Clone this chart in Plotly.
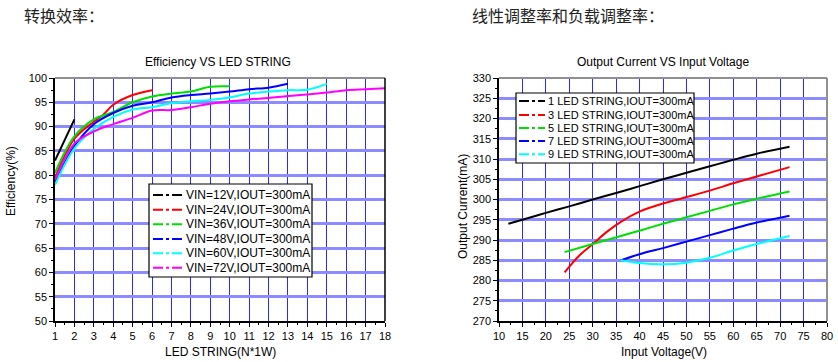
import plotly.graph_objects as go

# ---------------- data: left chart (Efficiency vs LED string) ----------------
eff_names = ["VIN=12V,IOUT=300mA", "VIN=24V,IOUT=300mA", "VIN=36V,IOUT=300mA",
             "VIN=48V,IOUT=300mA", "VIN=60V,IOUT=300mA", "VIN=72V,IOUT=300mA"]
eff_x = [
    [1, 2],
    [1, 2, 3, 3.5, 4, 5, 6],
    [1, 2, 3, 4, 5, 6, 7, 8, 9, 10],
    [1, 2, 3, 4, 5, 6, 7, 8, 9, 10, 11, 12, 13],
    [1, 2, 3, 4, 5, 6, 7, 8, 9, 10, 11, 12, 13, 14, 15],
    [1, 2, 3, 4, 5, 6, 7, 8, 9, 10, 11, 12, 13, 14, 15, 16, 17, 18],
]
eff_y = [
    [83.0, 91.5],
    [79.5, 87.5, 91.0, 92.5, 94.5, 96.5, 97.5],
    [80.5, 88.0, 91.5, 93.0, 95.0, 96.2, 96.8, 97.2, 98.2, 98.3],
    [78.5, 86.0, 90.5, 92.8, 94.3, 95.0, 96.0, 96.5, 96.8, 97.2, 97.7, 98.0, 98.8],
    [78.0, 85.5, 89.5, 92.0, 93.5, 94.0, 94.8, 95.2, 95.5, 96.0, 96.8, 97.2, 97.5, 97.6, 98.8],
    [79.0, 86.5, 89.0, 90.5, 91.8, 93.3, 93.4, 94.0, 94.7, 95.2, 95.6, 95.9, 96.3, 96.6, 97.0, 97.5, 97.7, 97.9],
]
eff_colors = ["#000000", "#ff0000", "#00e000", "#0000ff", "#00ffff", "#ff00ff"]

# ---------------- data: right chart (Output current vs input voltage) ----------------
cur_names = ["1 LED STRING,IOUT=300mA", "3 LED STRING,IOUT=300mA", "5 LED STRING,IOUT=300mA",
             "7 LED STRING,IOUT=300mA", "9 LED STRING,IOUT=300mA"]
cur_x = [
    [12, 15, 20, 25, 30, 35, 40, 45, 50, 55, 60, 65, 72],
    [24, 27, 30, 33, 36, 40, 45, 50, 55, 60, 65, 72],
    [24, 30, 36, 40, 45, 50, 55, 60, 65, 72],
    [36, 40, 45, 50, 55, 60, 65, 72],
    [36, 40, 45, 50, 55, 60, 65, 72],
]
cur_y = [
    [294.0, 295.0, 296.7, 298.3, 300.0, 301.6, 303.3, 305.0, 306.6, 308.2, 309.8, 311.3, 313.0],
    [282.0, 286.0, 289.0, 292.0, 294.5, 297.0, 299.0, 300.6, 302.2, 304.0, 305.7, 308.0],
    [287.0, 289.0, 291.0, 292.3, 294.0, 295.6, 297.2, 298.8, 300.2, 302.0],
    [285.0, 286.5, 288.0, 289.6, 291.2, 292.8, 294.3, 296.0],
    [285.0, 284.3, 284.0, 284.4, 285.6, 287.4, 289.0, 291.0],
]
cur_colors = ["#000000", "#ff0000", "#00e000", "#0000ff", "#00ffff"]

FONT = "Liberation Sans, Arial, sans-serif"
W, H = 838, 362


def px(x):
    return x / W


def py(y):
    return 1 - y / H


fig = go.Figure()

for xs, ys, c in zip(eff_x, eff_y, eff_colors):
    fig.add_trace(go.Scatter(x=xs, y=ys, mode="lines", line=dict(color=c, width=2, shape="spline"),
                             showlegend=False, hoverinfo="skip", xaxis="x", yaxis="y"))

for xs, ys, c in zip(cur_x, cur_y, cur_colors):
    fig.add_trace(go.Scatter(x=xs, y=ys, mode="lines", line=dict(color=c, width=2, shape="spline"),
                             showlegend=False, hoverinfo="skip", xaxis="x2", yaxis="y2"))

L0, L1, R0, R1 = 55, 385, 499, 827
T, B = 78, 321
ydom = [py(B), py(T)]

common_x = dict(showgrid=True, gridcolor="#2a2aff", gridwidth=1.4, zeroline=False,
                showline=True, linecolor="black", linewidth=1.5, ticks="outside",
                ticklen=4, tickcolor="black", tickfont=dict(family=FONT, size=11, color="black"))
common_y = dict(showgrid=True, gridcolor="#8c8cff", gridwidth=2.5, zeroline=False,
                showline=True, linecolor="black", linewidth=1.5, ticks="outside",
                ticklen=4, tickcolor="black", tickfont=dict(family=FONT, size=11, color="black"))

shapes = [
    dict(type="line", xref="paper", yref="paper", x0=px(L0), x1=px(L1), y0=ydom[1], y1=ydom[1],
         line=dict(color="#909090", width=2)),
    dict(type="line", xref="paper", yref="paper", x0=px(L1), x1=px(L1), y0=ydom[0], y1=ydom[1],
         line=dict(color="black", width=1.5)),
    dict(type="line", xref="paper", yref="paper", x0=px(R0), x1=px(R1), y0=ydom[1], y1=ydom[1],
         line=dict(color="#909090", width=2)),
    dict(type="line", xref="paper", yref="paper", x0=px(R1), x1=px(R1), y0=ydom[0], y1=ydom[1],
         line=dict(color="#909090", width=2)),
]
annotations = []


def add_legend(names, colors, box, rows, sample_x, text_x, font_size):
    x0, y0, x1, y1 = box
    shapes.append(dict(type="rect", xref="paper", yref="paper", x0=px(x0), x1=px(x1),
                       y0=py(y1), y1=py(y0), fillcolor="white",
                       line=dict(color="black", width=1.2), layer="above"))
    for name, c, ry in zip(names, colors, rows):
        shapes.append(dict(type="line", xref="paper", yref="paper", x0=px(sample_x[0]), x1=px(sample_x[1]),
                           y0=py(ry), y1=py(ry), layer="above",
                           line=dict(color=c, width=2, dash="10px,3px,3px,3px")))
        annotations.append(dict(text=name, x=px(text_x), y=py(ry), xref="paper", yref="paper",
                                xanchor="left", yanchor="middle", showarrow=False,
                                font=dict(family=FONT, size=font_size, color="black")))


add_legend(eff_names, eff_colors, (149, 184, 312, 277),
           [195, 209.7, 224.3, 239, 253.3, 267.7], (153, 182), 184, 12)
add_legend(cur_names, cur_colors, (516, 93, 694, 163),
           [101, 115, 128, 141, 154.3], (519, 545), 546, 11)

texts = [
    ("转换效率：", 22, 15, "left", 0, 16, "Noto Sans CJK SC", "#222222"),
    ("线性调整率和负载调整率：", 470, 15, "left", 0, 16, "Noto Sans CJK SC", "#222222"),
    ("Efficiency VS LED STRING", 218, 62, "center", 0, 12, FONT, "black"),
    ("Output Current VS Input Voltage", 663, 62, "center", 0, 12, FONT, "black"),
    ("LED STRING(N*1W)", 220, 351.5, "center", 0, 12, FONT, "black"),
    ("Input Voltage(V)", 664, 351.5, "center", 0, 12, FONT, "black"),
    ("Efficiency(%)", 11, 181, "center", -90, 12, FONT, "black"),
    ("Output Current(mA)", 463, 207, "center", -90, 12, FONT, "black"),
]
for t, x, y, xa, ang, sz, fam, col in texts:
    annotations.append(dict(text=t, x=px(x), y=py(y), xref="paper", yref="paper",
                            xanchor=xa, yanchor="middle", showarrow=False, textangle=ang,
                            font=dict(family=fam, size=sz, color=col)))

fig.update_layout(
    width=W, height=H,
    margin=dict(l=0, r=0, t=0, b=0, autoexpand=False),
    paper_bgcolor="white", plot_bgcolor="white",
    showlegend=False,
    xaxis=dict(domain=[px(L0), px(L1)], range=[1, 18], dtick=1, tick0=1,
               minor=dict(ticks="outside", ticklen=2, dtick=0.5, tickcolor="black", showgrid=False),
               anchor="y", **common_x),
    yaxis=dict(domain=ydom, range=[50, 100], dtick=5,
               minor=dict(ticks="outside", ticklen=2, dtick=2.5, tickcolor="black", showgrid=False),
               anchor="x", **common_y),
    xaxis2=dict(domain=[px(R0), px(R1)], range=[10, 80], dtick=5,
                minor=dict(ticks="outside", ticklen=2, dtick=2.5, tickcolor="black", showgrid=False),
                anchor="y2", **common_x),
    yaxis2=dict(domain=ydom, range=[270, 330], dtick=5,
                minor=dict(ticks="outside", ticklen=2, dtick=2.5, tickcolor="black", showgrid=False),
                anchor="x2", **common_y),
    shapes=shapes,
    annotations=annotations,
)

fig.write_html("out.html", config={"displayModeBar": False},
               post_script="document.body.style.margin='0';document.body.style.overflow='hidden';")
